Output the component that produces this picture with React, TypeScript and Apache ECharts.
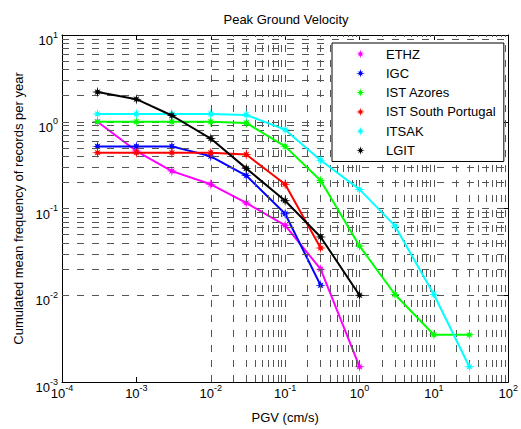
import React, { useEffect, useRef } from "react";
import * as echarts from "echarts";

const seriesNames = ["ETHZ", "IGC", "IST Azores", "IST South Portugal", "ITSAK", "LGIT"];
const seriesColors = ["#ff00ff", "#0000ff", "#00ff00", "#ff0000", "#00ffff", "#000000"];

const ethzX = [3e-4, 1e-3, 3e-3, 1e-2, 3e-2, 0.1, 0.3, 1];
const ethzY = [1.0, 0.46, 0.27, 0.19, 0.116, 0.064, 0.02, 0.0015];
const igcX = [3e-4, 1e-3, 3e-3, 1e-2, 3e-2, 0.1, 0.3];
const igcY = [0.52, 0.52, 0.52, 0.4, 0.24, 0.087, 0.013];
const azoresX = [3e-4, 1e-3, 3e-3, 1e-2, 3e-2, 0.1, 0.3, 1, 3, 10, 30];
const azoresY = [1.0, 1.0, 1.0, 1.0, 0.97, 0.52, 0.21, 0.037, 0.0102, 0.0035, 0.0035];
const southX = [3e-4, 1e-3, 3e-3, 1e-2, 3e-2, 0.1, 0.3];
const southY = [0.44, 0.44, 0.44, 0.44, 0.42, 0.19, 0.035];
const itsakX = [3e-4, 1e-3, 3e-3, 1e-2, 3e-2, 0.1, 0.3, 1, 3, 10, 30];
const itsakY = [1.23, 1.23, 1.23, 1.23, 1.2, 0.81, 0.36, 0.166, 0.063, 0.0102, 0.0015];
const lgitX = [3e-4, 1e-3, 3e-3, 1e-2, 3e-2, 0.1, 0.3, 1];
const lgitY = [2.2, 1.82, 1.18, 0.64, 0.29, 0.123, 0.047, 0.01];

const xDecades = [-4, -3, -2, -1, 0, 1, 2];
const yDecades = [-3, -2, -1, 0, 1];
const gridMultipliers = [1, 2, 3, 4, 5, 6, 7, 8, 9];

const STAR =
  "path://M20,10 L13.23,11.34 L15.3,15.3 L11.34,13.23 L10,20 L8.66,13.23 L4.7,15.3 L6.77,11.34 L0,10 L6.77,8.66 L4.7,4.7 L8.66,6.77 L10,0 L11.34,6.77 L15.3,4.7 L13.23,8.66 Z";

const FONT = "'Liberation Sans', Arial, sans-serif";

function gridValues(decades: number[]) {
  const out: number[] = [];
  const lo = decades[0];
  const hi = decades[decades.length - 1];
  for (let d = lo; d < hi; d++) {
    for (const m of gridMultipliers) {
      if (m === 1 && d === lo) continue;
      out.push(m * Math.pow(10, d));
    }
  }
  return out;
}

const pairs = (xs: number[], ys: number[]) => xs.map((x, i) => [x, ys[i]]);

const expLabel = (v: number) => {
  const e = Math.round(Math.log10(v));
  return `{b|10}{e|${e}}`;
};

const richLabel = {
  b: { fontSize: 13, fontFamily: FONT, color: "#000", verticalAlign: "bottom", lineHeight: 17 },
  e: { fontSize: 9, fontFamily: FONT, color: "#000", verticalAlign: "top", lineHeight: 17 },
};

export default function App() {
  const ref = useRef<HTMLDivElement>(null);
  useEffect(() => {
    if (!ref.current) return;
    const chart = echarts.init(ref.current, null, { renderer: "svg" });
    const dataSets = [
      pairs(ethzX, ethzY),
      pairs(igcX, igcY),
      pairs(azoresX, azoresY),
      pairs(southX, southY),
      pairs(itsakX, itsakY),
      pairs(lgitX, lgitY),
    ];
    const gridLine = { color: "#555", width: 1, type: [7, 8] as any };
    const xMin = Math.pow(10, xDecades[0]);
    const xMax = Math.pow(10, xDecades[xDecades.length - 1]);
    const yMin = Math.pow(10, yDecades[0]);
    const yMax = Math.pow(10, yDecades[yDecades.length - 1]);

    const markData = [
      ...gridValues(xDecades).map((v) => ({ xAxis: v })),
      ...gridValues(yDecades).map((v) => ({ yAxis: v })),
    ];

    chart.setOption({
      animation: false,
      backgroundColor: "#fff",
      textStyle: { fontFamily: FONT },
      title: {
        text: "Peak Ground Velocity",
        left: 286,
        textAlign: "center",
        top: 13,
        padding: 0,
        textStyle: { fontSize: 13, fontWeight: "normal", color: "#000", fontFamily: FONT },
      },
      grid: { left: 62, top: 35, right: 11, bottom: 41, containLabel: false },
      legend: {
        data: seriesNames,
        orient: "vertical",
        left: 332,
        top: 43,
        z: 50,
        padding: [4, 8, 4, 24],
        itemWidth: 9,
        itemHeight: 9,
        itemGap: 5.3,
        icon: STAR,
        backgroundColor: "#fff",
        borderColor: "#000",
        borderWidth: 1,
        borderRadius: 0,
        textStyle: {
          fontSize: 13,
          color: "#000",
          fontFamily: FONT,
          lineHeight: 14,
          padding: [0, 0, 0, 16],
        },
      },
      xAxis: [
        {
          type: "log",
          logBase: 10,
          min: xMin,
          max: xMax,
          splitNumber: 6,
          name: "PGV (cm/s)",
          nameLocation: "middle",
          nameGap: 29,
          nameTextStyle: { fontSize: 13, color: "#000", fontFamily: FONT },
          axisLine: { lineStyle: { color: "#000", width: 1 } },
          axisTick: { inside: true, length: 5, lineStyle: { color: "#000" } },
          axisLabel: { formatter: expLabel, rich: richLabel, margin: 1 },
          splitLine: { show: false },
        },
        {
          type: "log",
          logBase: 10,
          min: xMin,
          max: xMax,
          splitNumber: 6,
          position: "top",
          axisLine: { lineStyle: { color: "#000", width: 1 } },
          axisTick: { inside: true, length: 5, lineStyle: { color: "#000" } },
          axisLabel: { show: false },
          splitLine: { show: false },
        },
      ],
      yAxis: [
        {
          type: "log",
          logBase: 10,
          min: yMin,
          max: yMax,
          splitNumber: 4,
          name: "Cumulated mean frequency of records per year",
          nameLocation: "middle",
          nameGap: 30,
          nameTextStyle: { fontSize: 13, color: "#000", fontFamily: FONT },
          axisLine: { lineStyle: { color: "#000", width: 1 } },
          axisTick: { inside: true, length: 5, lineStyle: { color: "#000" } },
          axisLabel: { formatter: expLabel, rich: richLabel, margin: 4, padding: [7, 0, 0, 0] },
          splitLine: { show: false },
        },
        {
          type: "log",
          logBase: 10,
          min: yMin,
          max: yMax,
          splitNumber: 4,
          position: "right",
          axisLine: { lineStyle: { color: "#000", width: 1 } },
          axisTick: { inside: true, length: 5, lineStyle: { color: "#000" } },
          axisLabel: { show: false },
          splitLine: { show: false },
        },
      ],
      series: [
        {
          name: "__grid",
          type: "line",
          data: [],
          silent: true,
          z: 1,
          markLine: {
            silent: true,
            symbol: "none",
            label: { show: false },
            lineStyle: gridLine,
            emphasis: { disabled: true },
            data: markData,
          },
        },
        ...seriesNames.map((name, i) => ({
          name,
          type: "line",
          data: dataSets[i],
          symbol: STAR,
          symbolSize: 11,
          color: seriesColors[i],
          itemStyle: { color: seriesColors[i] },
          lineStyle: { color: seriesColors[i], width: 2 },
          z: 3 + i,
        })),
      ],
    });
    return () => chart.dispose();
  }, []);
  return (
    <div
      ref={ref}
      style={{ position: "fixed", left: 0, top: 0, width: 521, height: 429, background: "#fff" }}
    />
  );
}
